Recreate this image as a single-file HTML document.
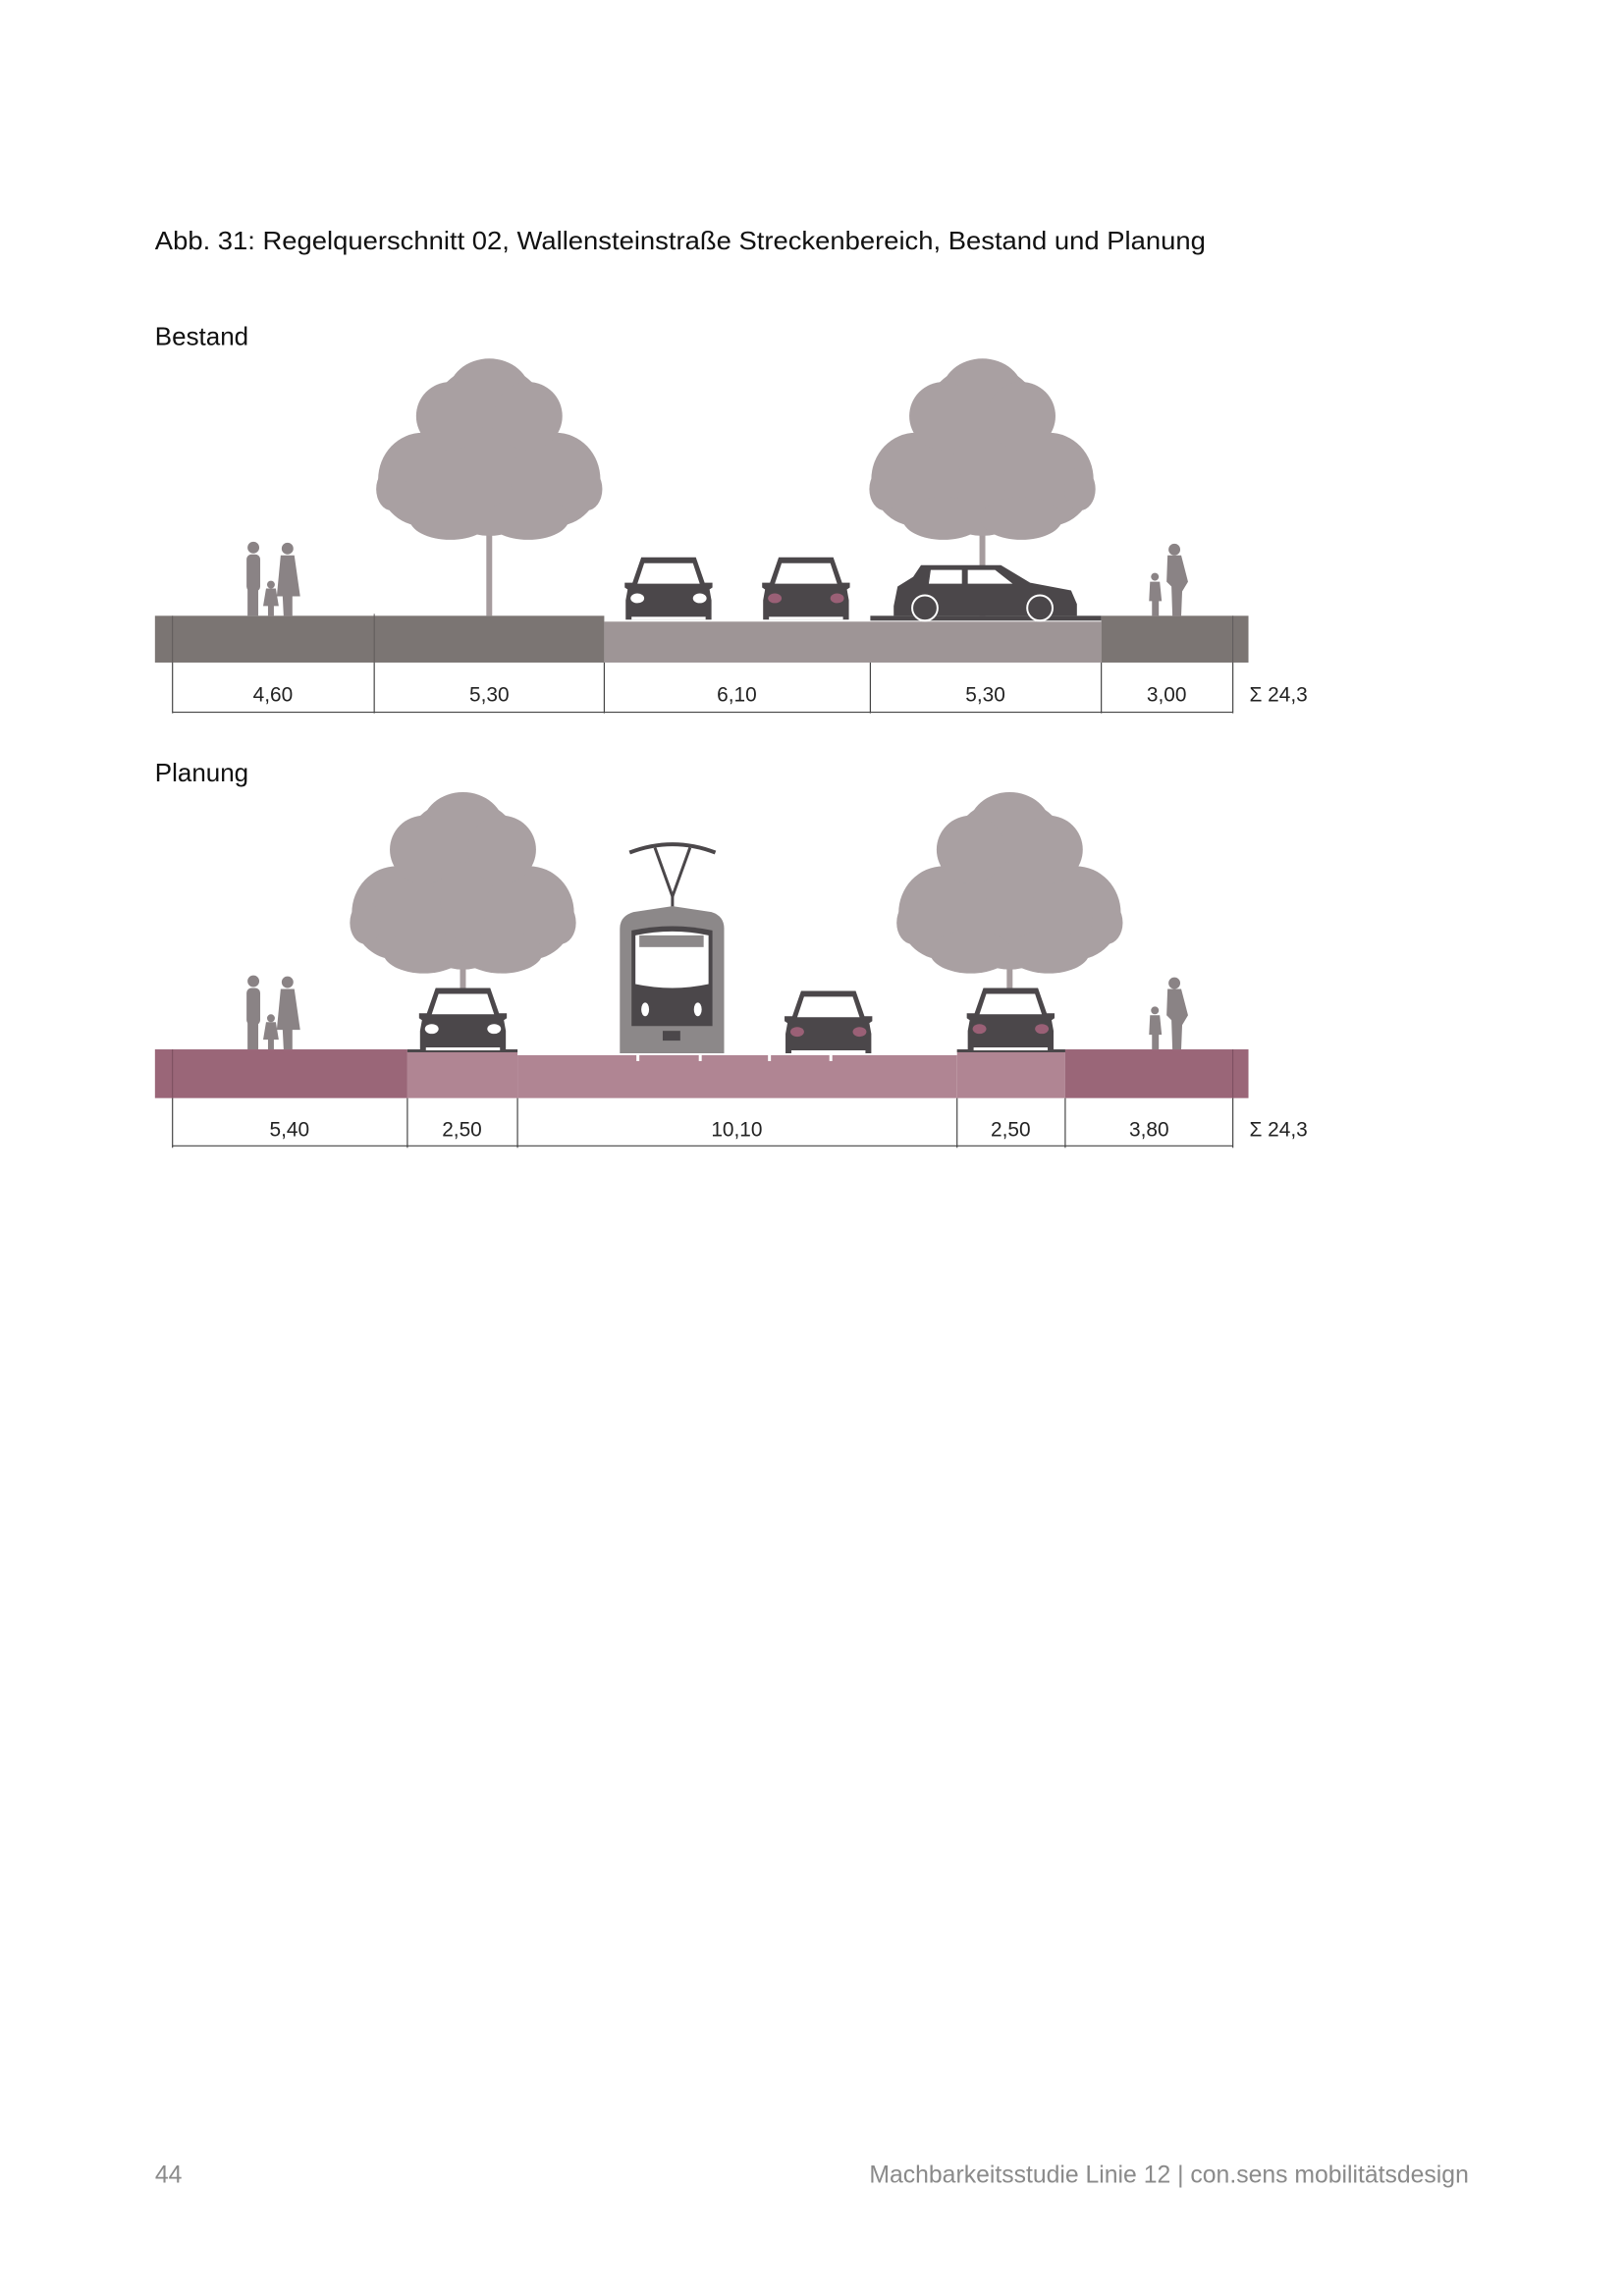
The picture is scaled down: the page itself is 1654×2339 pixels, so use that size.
<!DOCTYPE html>
<html><head><meta charset="utf-8"><style>
html,body{margin:0;padding:0;background:#fff;}
svg{display:block;}
text{font-family:"Liberation Sans",sans-serif;}
</style></head><body>
<svg width="1654" height="2339" viewBox="0 0 1654 2339" xmlns="http://www.w3.org/2000/svg">
<defs>
  <g id="tree">
    <rect x="-3" y="-110" width="6" height="110" fill="#a69c9e"/>
    <g fill="#a9a0a2">
      <ellipse cx="0" cy="-170" rx="72" ry="88"/>
      <ellipse cx="-68" cy="-140" rx="46" ry="48"/>
      <ellipse cx="68" cy="-140" rx="46" ry="48"/>
      <ellipse cx="0" cy="-228" rx="42" ry="36"/>
      <ellipse cx="-40" cy="-205" rx="35" ry="35"/>
      <ellipse cx="40" cy="-205" rx="35" ry="35"/>
      <ellipse cx="-40" cy="-100" rx="42" ry="22"/>
      <ellipse cx="40" cy="-100" rx="42" ry="22"/>
      <ellipse cx="-100" cy="-130" rx="16" ry="22"/>
      <ellipse cx="100" cy="-130" rx="16" ry="22"/>
    </g>
  </g>
  <g id="carF">
    <path d="M-28,-64 L28,-64 L37,-38 L45,-38 L45,-33 L42,-31 L44,-20 L44,0 L-44,0 L-44,-20 L-42,-31 L-45,-33 L-45,-38 L-37,-38 Z" fill="#4b474a"/>
    <path d="M-25,-58 L25,-58 L32,-37 L-32,-37 Z" fill="#fff"/>
    <ellipse cx="-32" cy="-22" rx="7" ry="5" fill="#fff"/>
    <ellipse cx="32" cy="-22" rx="7" ry="5" fill="#fff"/>
    <rect x="-38" y="-3" width="76" height="3" fill="#fff"/>
  </g>
  <g id="carR">
    <path d="M-28,-64 L28,-64 L37,-38 L45,-38 L45,-33 L42,-31 L44,-20 L44,0 L-44,0 L-44,-20 L-42,-31 L-45,-33 L-45,-38 L-37,-38 Z" fill="#4b474a"/>
    <path d="M-25,-58 L25,-58 L32,-37 L-32,-37 Z" fill="#fff"/>
    <ellipse cx="-32" cy="-22" rx="7" ry="5" fill="#9a6076"/>
    <ellipse cx="32" cy="-22" rx="7" ry="5" fill="#9a6076"/>
    <rect x="-38" y="-3" width="76" height="3" fill="#fff"/>
  </g>
  <g id="peopleL" fill="#8a8385">
    <circle cx="12" cy="-70" r="6"/><rect x="5" y="-63" width="14" height="38" rx="5"/><rect x="6" y="-28" width="11" height="28"/>
    <circle cx="47" cy="-69" r="6"/><path d="M40,-62 L54,-62 L60,-20 L52,-20 L52,0 L43,0 L42,-20 L36,-20 Z"/>
    <circle cx="30" cy="-32" r="4"/><path d="M25,-28 L35,-28 L38,-10 L33,-10 L33,0 L27,0 L27,-10 L22,-10 Z"/>
  </g>
  <g id="peopleR" fill="#8a8385">
    <circle cx="30" cy="-68" r="6"/><path d="M23,-62 L37,-62 L44,-35 L38,-25 L37,0 L28,0 L27,-30 L22,-35 Z"/>
    <circle cx="10" cy="-40" r="4"/><path d="M5,-35 L15,-35 L17,-15 L14,-15 L14,0 L7,0 L7,-15 L4,-15 Z"/>
  </g>
</defs>
<g transform="scale(0.9926)">
<text x="159" y="256" font-size="26" fill="#111" textLength="1078" lengthAdjust="spacingAndGlyphs">Abb. 31: Regelquerschnitt 02, Wallensteinstraße Streckenbereich, Bestand und Planung</text>

<!-- BESTAND -->
<text x="159" y="354" font-size="26" fill="#111" textLength="96" lengthAdjust="spacingAndGlyphs">Bestand</text>
<use href="#tree" transform="translate(502,632)"/>
<use href="#tree" transform="translate(1008,632)"/>
<rect x="159" y="632" width="461" height="48" fill="#7b7573"/>
<rect x="620" y="638" width="510" height="42" fill="#9e9596"/>
<rect x="893" y="632" width="237" height="5" fill="#4b474a"/>
<rect x="1130" y="632" width="151" height="48" fill="#7b7573"/>
<line x1="177" y1="632" x2="177" y2="680" stroke="#5f5a5a" stroke-width="1"/>
<line x1="384" y1="630" x2="384" y2="680" stroke="#5f5a5a" stroke-width="1"/>
<line x1="1265" y1="632" x2="1265" y2="680" stroke="#5f5a5a" stroke-width="1"/>
<use href="#peopleL" transform="translate(248,632)"/>
<use href="#peopleR" transform="translate(1175,632)"/>
<use href="#carF" transform="translate(686,636)"/>
<use href="#carR" transform="translate(827,636)"/>
<g transform="translate(917,632)">
  <path d="M0,-10 L4,-30 L20,-40 L28,-52 L110,-52 L140,-34 L182,-26 L188,-12 L188,0 L0,0 Z" fill="#4b474a"/>
  <path d="M38,-47 L70,-47 L70,-33 L36,-33 Z" fill="#fff"/>
  <path d="M76,-47 L104,-47 L122,-33 L76,-33 Z" fill="#fff"/>
  <circle cx="32" cy="-8" r="13" fill="#4b474a" stroke="#fff" stroke-width="2"/>
  <circle cx="150" cy="-8" r="13" fill="#4b474a" stroke="#fff" stroke-width="2"/>
</g>
<g stroke="#444" stroke-width="1.2">
  <line x1="177" y1="680" x2="177" y2="732"/><line x1="384" y1="680" x2="384" y2="732"/>
  <line x1="620" y1="680" x2="620" y2="732"/><line x1="893" y1="680" x2="893" y2="732"/>
  <line x1="1130" y1="680" x2="1130" y2="732"/><line x1="1265" y1="680" x2="1265" y2="732"/>
  <line x1="177" y1="731" x2="1265" y2="731"/>
</g>
<g font-size="21" fill="#222" text-anchor="middle">
  <text x="280" y="720">4,60</text><text x="502" y="720">5,30</text><text x="756" y="720">6,10</text>
  <text x="1011" y="720">5,30</text><text x="1197" y="720">3,00</text>
</g>
<text x="1282" y="720" font-size="21" fill="#222">Σ 24,3</text>

<!-- PLANUNG -->
<text x="159" y="802" font-size="26" fill="#111" textLength="96" lengthAdjust="spacingAndGlyphs">Planung</text>
<use href="#tree" transform="translate(475,1077)"/>
<use href="#tree" transform="translate(1036,1077)"/>
<rect x="159" y="1077" width="259" height="50" fill="#9a6678"/>
<rect x="418" y="1077" width="113" height="50" fill="#b08593"/>
<rect x="531" y="1083" width="451" height="44" fill="#b08593"/>
<rect x="982" y="1077" width="111" height="50" fill="#b08593"/>
<rect x="1093" y="1077" width="188" height="50" fill="#9a6678"/>
<rect x="418" y="1077" width="113" height="3" fill="#4b474a"/>
<rect x="982" y="1077" width="111" height="3" fill="#4b474a"/>
<line x1="177" y1="1077" x2="177" y2="1127" stroke="#7a4d5e"/>
<line x1="1265" y1="1077" x2="1265" y2="1127" stroke="#7a4d5e"/>
<use href="#peopleL" transform="translate(248,1077)"/>
<use href="#peopleR" transform="translate(1175,1077)"/>
<use href="#carF" transform="translate(475,1078)"/>
<use href="#carR" transform="translate(850,1081)"/>
<use href="#carR" transform="translate(1037,1078)"/>
<g>
  <path d="M646,875 Q690,858 734,875" fill="none" stroke="#4b474a" stroke-width="4"/>
  <path d="M672,870 L690,920 L708,870" fill="none" stroke="#4b474a" stroke-width="3"/>
  <line x1="690" y1="920" x2="690" y2="938" stroke="#4b474a" stroke-width="3"/>
  <path d="M636,953 Q636,940 650,936 L690,930 L730,936 Q743,940 743,953 L743,1081 L636,1081 Z" fill="#8c8889"/>
  <path d="M648,955 Q690,946 731,955 L731,1053 L648,1053 Z" fill="#4b474a"/>
  <path d="M652,960 Q690,952 727,960 L727,1010 Q690,1018 652,1010 Z" fill="#fff"/>
  <rect x="656" y="960" width="66" height="12" fill="#8c8889"/>
  <ellipse cx="662" cy="1036" rx="4" ry="7" fill="#fff"/>
  <ellipse cx="716" cy="1036" rx="4" ry="7" fill="#fff"/>
  <rect x="680" y="1058" width="18" height="10" fill="#4b474a"/>
  <g fill="#fff"><rect x="653" y="1083" width="3" height="6"/><rect x="717" y="1083" width="3" height="6"/><rect x="788" y="1083" width="3" height="6"/><rect x="851" y="1083" width="3" height="6"/></g>
</g>
<g stroke="#444" stroke-width="1.2">
  <line x1="177" y1="1127" x2="177" y2="1178"/><line x1="418" y1="1127" x2="418" y2="1178"/>
  <line x1="531" y1="1127" x2="531" y2="1178"/><line x1="982" y1="1127" x2="982" y2="1178"/>
  <line x1="1093" y1="1127" x2="1093" y2="1178"/><line x1="1265" y1="1127" x2="1265" y2="1178"/>
  <line x1="177" y1="1176" x2="1265" y2="1176"/>
</g>
<g font-size="21" fill="#222" text-anchor="middle">
  <text x="297" y="1166">5,40</text><text x="474" y="1166">2,50</text><text x="756" y="1166">10,10</text>
  <text x="1037" y="1166">2,50</text><text x="1179" y="1166">3,80</text>
</g>
<text x="1282" y="1166" font-size="21" fill="#222">Σ 24,3</text>

<text x="159" y="2240" font-size="25" fill="#8a8a8a">44</text>
<text x="892" y="2240" font-size="25" fill="#8a8a8a" textLength="615" lengthAdjust="spacingAndGlyphs">Machbarkeitsstudie Linie 12 | con.sens mobilitätsdesign</text>
</g>
</svg>
</body></html>
